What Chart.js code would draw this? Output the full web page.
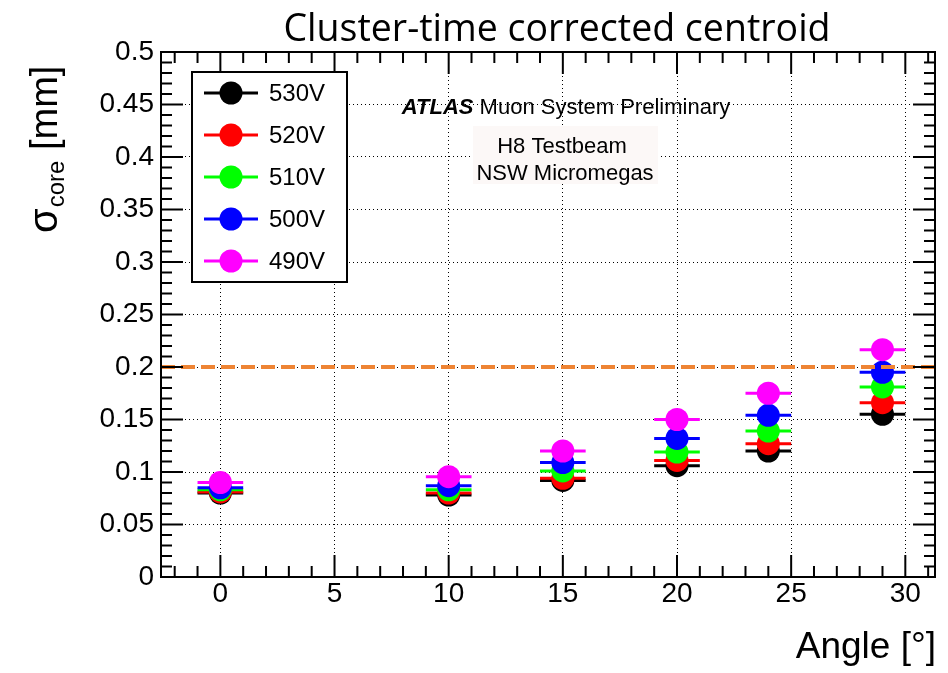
<!DOCTYPE html>
<html>
<head>
<meta charset="utf-8">
<script src="https://cdn.jsdelivr.net/npm/chart.js@4/dist/chart.umd.min.js"></script>
<style>
  html, body { margin: 0; padding: 0; background: #fff; }
  #c { display: block; }
</style>
</head>
<body>
<canvas id="c" width="948" height="673"></canvas>
<script>
// angles and sigma_core values (mm) per HV setting
const angles = [0, 10, 15, 20, 24, 29];
const angleErr = [1, 1, 1, 1, 1, 1];
const v530 = [0.080, 0.078, 0.092, 0.106, 0.120, 0.155];
const v520 = [0.081, 0.080, 0.094, 0.111, 0.127, 0.166];
const v510 = [0.083, 0.083, 0.101, 0.119, 0.139, 0.181];
const v500 = [0.085, 0.087, 0.109, 0.132, 0.154, 0.195];
const v490 = [0.090, 0.0955, 0.120, 0.150, 0.175, 0.2165];
const seriesLabels = ['530V', '520V', '510V', '500V', '490V'];
const seriesColors = ['#000000', '#ff0000', '#00ff00', '#0000ff', '#ff00ff'];
const seriesValues = [v530, v520, v510, v500, v490];

const refLevel = 0.2;
const xMin = -2.6, xMax = 31.3;
const yMin = 0, yMax = 0.5;
const xTicks = [0, 5, 10, 15, 20, 25, 30];
const yTicks = [0, 0.05, 0.1, 0.15, 0.2, 0.25, 0.3, 0.35, 0.4, 0.45, 0.5];
const yTickLabels = ['0', '0.05', '0.1', '0.15', '0.2', '0.25', '0.3', '0.35', '0.4', '0.45', '0.5'];

const TICK_FONT = '"Liberation Sans", Arial, sans-serif';

const datasets = seriesValues.map((vals, i) => ({
    label: seriesLabels[i],
    data: angles.map((a, j) => ({ x: a, y: vals[j] })),
    xErr: angleErr,
    backgroundColor: seriesColors[i],
    borderColor: seriesColors[i],
    borderWidth: 0,
    pointRadius: 11.5,
    pointHoverRadius: 11.5,
    order: seriesValues.length - i   // last series ends up on top
}));

// reference line at 0.2 mm
datasets.push({
    type: 'line',
    label: 'ref',
    data: [{ x: xMin, y: refLevel }, { x: xMax, y: refLevel }],
    borderColor: '#ee8434',
    borderWidth: 4,
    borderDash: [14, 6],
    pointRadius: 0,
    fill: false,
    order: -1
});

// ROOT-like decorations: error bars, frame, inner ticks, legend, texts
const rootStyle = {
    id: 'rootStyle',
    beforeDatasetsDraw(chart) {
        const ctx = chart.ctx;
        ctx.save();
        // text box behind the testbeam labels
        ctx.fillStyle = '#fcf8f7';
        ctx.fillRect(473, 126, 185, 58);
        ctx.fillStyle = '#000';
        ctx.textBaseline = 'alphabetic';
        ctx.font = 'italic bold 22px ' + TICK_FONT;
        const w1 = ctx.measureText('ATLAS').width;
        ctx.font = '22px ' + TICK_FONT;
        const rest = ' Muon System Preliminary';
        const w2 = ctx.measureText(rest).width;
        const x0 = 566 - (w1 + w2) / 2;
        ctx.font = 'italic bold 22px ' + TICK_FONT;
        ctx.textAlign = 'left';
        ctx.fillText('ATLAS', x0, 114);
        ctx.font = '22px ' + TICK_FONT;
        ctx.fillText(rest, x0 + w1, 114);
        ctx.textAlign = 'center';
        ctx.fillText('H8 Testbeam', 562, 153);
        ctx.fillText('NSW Micromegas', 565, 180);
        ctx.restore();
    },
    beforeDatasetDraw(chart, args) {
        const ds = chart.data.datasets[args.index];
        if (!ds.xErr) return;
        const xs = chart.scales.x, ys = chart.scales.y, ctx = chart.ctx;
        ctx.save();
        ctx.strokeStyle = ds.borderColor;
        ctx.lineWidth = 3;
        ds.data.forEach((p, j) => {
            const y = ys.getPixelForValue(p.y);
            ctx.beginPath();
            ctx.moveTo(xs.getPixelForValue(p.x - ds.xErr[j]), y);
            ctx.lineTo(xs.getPixelForValue(p.x + ds.xErr[j]), y);
            ctx.stroke();
        });
        ctx.restore();
    },
    afterDraw(chart) {
        const ctx = chart.ctx, a = chart.chartArea;
        const xs = chart.scales.x, ys = chart.scales.y;
        ctx.save();
        ctx.strokeStyle = '#000';
        ctx.lineWidth = 2;
        // inner ticks
        ctx.beginPath();
        for (let k = Math.ceil(xMin); k <= Math.floor(xMax); k++) {
            const px = xs.getPixelForValue(k);
            const len = (k % 5 === 0) ? 22 : 11;
            ctx.moveTo(px, a.bottom); ctx.lineTo(px, a.bottom - len);
            ctx.moveTo(px, a.top); ctx.lineTo(px, a.top + len);
        }
        for (let k = 0; k <= 50; k++) {
            const py = ys.getPixelForValue(k / 100);
            const len = (k % 5 === 0) ? 22 : 11;
            ctx.moveTo(a.left, py); ctx.lineTo(a.left + len, py);
            ctx.moveTo(a.right, py); ctx.lineTo(a.right - len, py);
        }
        ctx.stroke();
        ctx.strokeRect(a.left, a.top, a.right - a.left, a.bottom - a.top);

        // legend
        ctx.fillStyle = '#fff';
        ctx.fillRect(192, 72, 155, 210);
        ctx.strokeRect(192, 72, 155, 210);
        ctx.font = '24px ' + TICK_FONT;
        ctx.textAlign = 'left';
        ctx.textBaseline = 'middle';
        seriesLabels.forEach((lab, i) => {
            const y = 93 + 42 * i;
            ctx.strokeStyle = seriesColors[i];
            ctx.lineWidth = 3;
            ctx.beginPath(); ctx.moveTo(204, y); ctx.lineTo(258, y); ctx.stroke();
            ctx.fillStyle = seriesColors[i];
            ctx.beginPath(); ctx.arc(231, y, 11.5, 0, Math.PI * 2); ctx.fill();
            ctx.fillStyle = '#000';
            ctx.fillText(lab, 269, y + 1);
        });

        // title
        ctx.fillStyle = '#000';
        ctx.textBaseline = 'alphabetic';
        ctx.textAlign = 'center';
        ctx.font = '37.5px "Open Sans", "Noto Sans", sans-serif';
        ctx.fillText('Cluster-time corrected centroid', 557, 41);

        // x title
        ctx.textAlign = 'right';
        ctx.font = '37px ' + TICK_FONT;
        ctx.fillText('Angle [°]', 936, 658);

        // y title with subscript
        ctx.translate(57, 233);
        ctx.rotate(-Math.PI / 2);
        ctx.textAlign = 'left';
        ctx.font = '40px ' + TICK_FONT;
        ctx.fillText('σ', 0, 0);
        let off = ctx.measureText('σ').width + 1;
        ctx.font = '24px ' + TICK_FONT;
        ctx.fillText('core', off, 7);
        off += ctx.measureText('core').width;
        ctx.font = '38px ' + TICK_FONT;
        ctx.fillText(' [mm]', off, 0);
        ctx.restore();
    }
};

new Chart(document.getElementById('c'), {
    type: 'scatter',
    data: { datasets },
    options: {
        responsive: false,
        animation: false,
        events: [],
        layout: { padding: { top: 52, right: 13, left: 0, bottom: 0 } },
        plugins: { legend: { display: false }, title: { display: false }, tooltip: { enabled: false } },
        scales: {
            x: {
                type: 'linear', min: xMin, max: xMax,
                afterBuildTicks: s => { s.ticks = xTicks.map(v => ({ value: v })); },
                afterFit: s => { s.height = 96; },
                grid: { color: '#000', lineWidth: 1, drawTicks: false },
                border: { display: false, dash: [1, 3] },
                ticks: {
                    color: '#000', padding: 0, maxRotation: 0,
                    font: { family: TICK_FONT, size: 28 },
                    callback: v => String(v)
                }
            },
            y: {
                type: 'linear', min: yMin, max: yMax,
                afterBuildTicks: s => { s.ticks = yTicks.map(v => ({ value: v })); },
                afterFit: s => { s.width = 161; },
                grid: { color: '#000', lineWidth: 1, drawTicks: false },
                border: { display: false, dash: [1, 3] },
                ticks: {
                    color: '#000', padding: 7,
                    font: { family: TICK_FONT, size: 28 },
                    callback: (v, i) => yTickLabels[i]
                }
            }
        }
    },
    plugins: [rootStyle]
});
</script>
</body>
</html>
